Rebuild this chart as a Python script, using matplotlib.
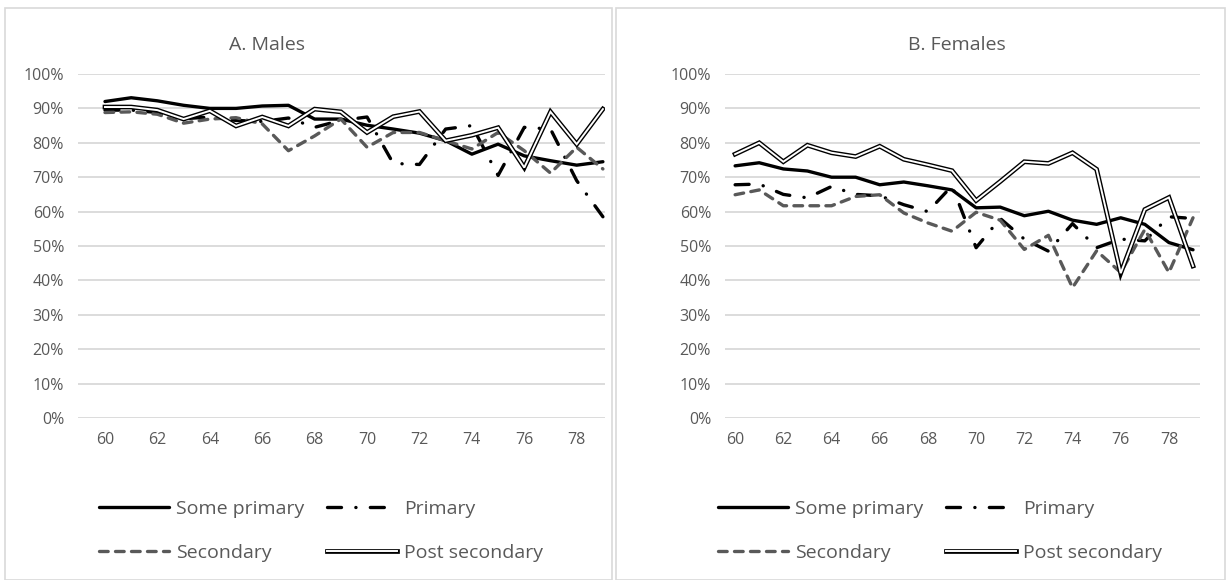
import numpy as np
import matplotlib
matplotlib.use('Agg')
import matplotlib.pyplot as plt
from matplotlib.lines import Line2D
from matplotlib.legend_handler import HandlerTuple
from matplotlib.patches import Rectangle
from matplotlib.ticker import PercentFormatter

plt.rcParams['font.family'] = ['Open Sans', 'DejaVu Sans']

# data (percent employed by age)
years = list(range(60, 80))
tick_years = list(range(60, 80, 2))

m_some_primary = [92.0, 93.1, 92.2, 90.9, 90.0, 90.0, 90.7, 90.9, 86.9, 86.9,
                  85.1, 84.0, 82.8, 80.6, 76.7, 79.6, 76.2, 74.8, 73.5, 74.5]
m_primary = [89.5, 89.5, 88.8, 87.0, 87.5, 86.5, 86.2, 87.2, 84.5, 86.5,
             87.5, 74.0, 73.7, 84.0, 85.0, 70.5, 84.5, 84.0, 69.0, 58.5]
m_secondary = [88.8, 89.0, 88.3, 85.7, 86.9, 87.3, 85.5, 77.7, 82.0, 86.9,
               78.7, 83.0, 83.0, 80.6, 78.2, 83.0, 77.7, 71.2, 78.7, 72.4]
m_post_secondary = [90.4, 90.4, 89.5, 86.9, 89.3, 84.9, 87.5, 84.9, 89.8, 89.0,
                    83.0, 87.6, 89.1, 80.6, 82.2, 84.4, 72.8, 89.0, 79.6, 89.8]

f_some_primary = [73.3, 74.2, 72.4, 71.8, 70.0, 70.0, 67.8, 68.6, 67.5, 66.3,
                  61.1, 61.3, 58.8, 60.1, 57.5, 56.3, 58.2, 56.3, 51.0, 48.9]
f_primary = [67.8, 68.0, 65.0, 64.0, 67.3, 65.0, 64.6, 62.0, 60.0, 67.5,
             49.5, 58.0, 52.0, 48.5, 56.5, 49.5, 52.0, 51.5, 58.5, 58.0]
f_secondary = [64.9, 66.3, 61.7, 61.7, 61.7, 64.4, 64.9, 59.6, 56.7, 54.3,
               59.8, 57.5, 49.0, 53.1, 37.9, 48.6, 42.3, 54.8, 42.3, 58.2]
f_post_secondary = [76.7, 80.0, 74.5, 79.3, 77.1, 76.0, 79.0, 75.2, 73.6, 71.9,
                    63.2, 68.75, 74.5, 74.0, 77.1, 72.3, 42.1, 60.6, 64.1, 44.2]

labels = ['Some primary', 'Primary', 'Secondary', 'Post secondary']
txt_col = '#595959'
grid_col = '#d9d9d9'
lw = 2.4

W, H = 1226, 580
fig = plt.figure(figsize=(W / 100, H / 100), dpi=100)

# chart borders
for x0, x1 in [(5, 612), (616, 1225)]:
    fig.patches.append(Rectangle((x0 / W, 0), (x1 - x0) / W, (H - 8) / H,
                                 transform=fig.transFigure, fill=False,
                                 edgecolor=grid_col, lw=1.2))


def draw_panel(ax, title, some, prim, sec, post, xlim, title_x, leg_x):
    h1, = ax.plot(years, some, color='black', lw=lw, solid_capstyle='round', zorder=3)
    h2, = ax.plot(years, prim, color='black', lw=lw, dashes=(4.2, 4.3, 0.05, 4.3),
                  dash_capstyle='round', zorder=4)
    h3, = ax.plot(years, sec, color=txt_col, lw=lw, dashes=(2.6, 2.2),
                  dash_capstyle='round', zorder=5)
    ax.plot(years, post, color='black', lw=3.4, solid_joinstyle='miter', zorder=6)
    ax.plot(years, post, color='white', lw=1.4, solid_joinstyle='miter', zorder=7)
    ax.set_ylim(0, 100)
    ax.set_xlim(*xlim)
    ax.set_yticks(range(0, 101, 10))
    ax.yaxis.set_major_formatter(PercentFormatter(decimals=0))
    ax.set_xticks(tick_years)
    ax.grid(axis='y', color=grid_col, lw=1.3)
    ax.set_axisbelow(True)
    for s in ax.spines.values():
        s.set_visible(False)
    ax.tick_params(length=0, labelsize=11.5, colors=txt_col, pad=10)
    fig.text(title_x / W, 1 - 45 / H, title, ha='center', va='center',
             fontsize=14, color=txt_col)
    post_h = (Line2D([], [], color='black', lw=3.4), Line2D([], [], color='white', lw=1.4))
    fig.legend([h1, h3, h2, post_h], [labels[0], labels[2], labels[1], labels[3]],
               handler_map={tuple: HandlerTuple(ndivide=1)},
               ncol=2, loc='upper left', bbox_to_anchor=(leg_x / W, 1 - 500 / H),
               bbox_transform=fig.transFigure, borderpad=0, borderaxespad=0,
               frameon=False, fontsize=14, labelcolor=txt_col,
               handlelength=3.6, handletextpad=0.35, columnspacing=1.2,
               labelspacing=1.35)


ax1 = fig.add_axes([78 / W, 162 / H, 527 / W, 344 / H])
draw_panel(ax1, 'A. Males', m_some_primary, m_primary, m_secondary, m_post_secondary,
           (58.97, 79.08), 267, 99)

ax2 = fig.add_axes([725 / W, 162 / H, 475 / W, 344 / H])
draw_panel(ax2, 'B. Females', f_some_primary, f_primary, f_secondary, f_post_secondary,
           (59.58, 79.29), 957, 718)

plt.savefig('out.png', dpi=100)
